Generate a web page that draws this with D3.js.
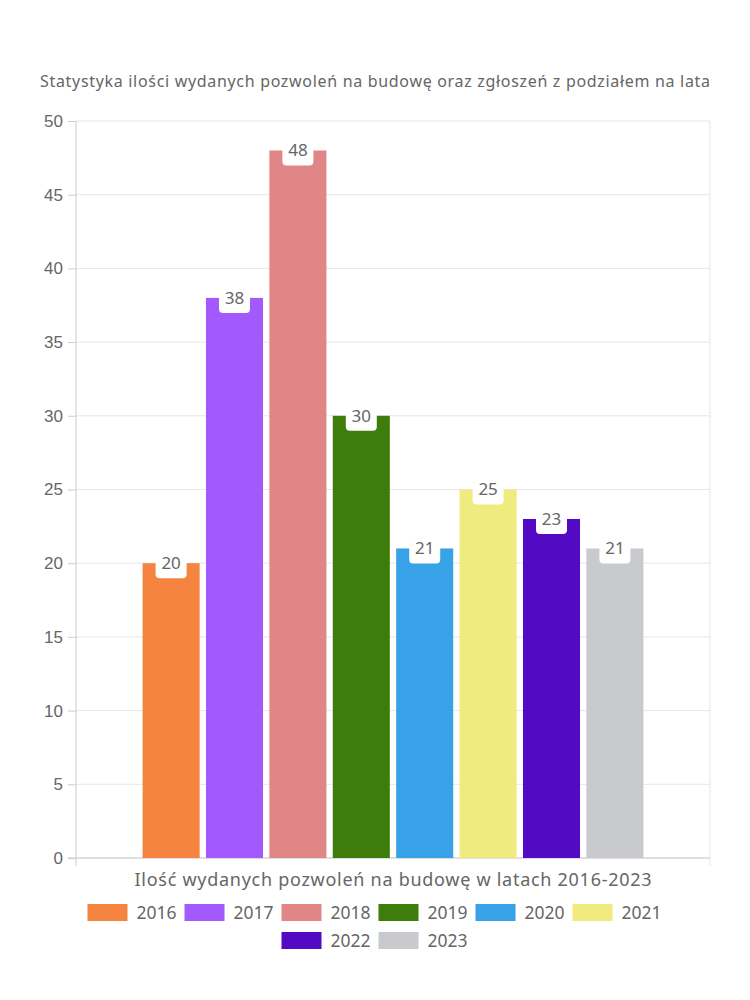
<!DOCTYPE html>
<html>
<head>
<meta charset="utf-8">
<script src="https://cdn.jsdelivr.net/npm/d3@7"></script>
<style>
  body { margin: 0; background: #fff; }
  .axis text { font-family: "Liberation Sans", Arial, sans-serif; font-size: 17px; fill: #666; }
  .axis path, .axis line { stroke: #ccc; }
  .lbl { font-family: "Noto Sans", sans-serif; fill: #666; }
</style>
</head>
<body>
<div id="chart"></div>
<script>
const years = ["2016", "2017", "2018", "2019", "2020", "2021", "2022", "2023"];
const values = [20, 38, 48, 30, 21, 25, 23, 21];
const colors = ["#f4843f", "#a259fd", "#e08686", "#3e7d0c", "#38a2e8", "#f0eb7e", "#520bc3", "#c9cacd"];
const yTicks = [0, 5, 10, 15, 20, 25, 30, 35, 40, 45, 50];
const title = "Statystyka ilości wydanych pozwoleń na budowę oraz zgłoszeń z podziałem na lata";
const xTitle = "Ilość wydanych pozwoleń na budowę w latach 2016-2023";

const W = 750, H = 1000;
const plot = { left: 76, right: 710, top: 121, bottom: 858 };

const svg = d3.select("#chart").append("svg")
  .attr("width", W).attr("height", H);

const y = d3.scaleLinear().domain([0, 50]).range([plot.bottom, plot.top]);

// one category, 8 datasets (chart.js style: 0.8 category, 0.9 bar)
const groupW = (plot.right - plot.left) * 0.8;
const cx = (plot.left + plot.right) / 2;
const xOuter = d3.scaleBand().domain(years).range([cx - groupW / 2, cx + groupW / 2]);
const barW = xOuter.bandwidth() * 0.9;

// grid
svg.append("g").selectAll("line").data(yTicks).join("line")
  .attr("x1", plot.left).attr("x2", plot.right)
  .attr("y1", d => y(d)).attr("y2", d => y(d))
  .attr("stroke", "#e6e6e6");
svg.append("line").attr("x1", plot.right).attr("x2", plot.right)
  .attr("y1", plot.top).attr("y2", plot.bottom + 8).attr("stroke", "#e6e6e6");

const yAxis = svg.append("g").attr("class", "axis")
  .attr("transform", `translate(${plot.left},0)`)
  .call(d3.axisLeft(y).tickValues(yTicks).tickSize(8).tickPadding(5));
yAxis.select(".domain").remove();
yAxis.append("line").attr("x1", 0).attr("x2", 0).attr("y1", plot.top).attr("y2", plot.bottom + 8).attr("stroke", "#ccc");
yAxis.selectAll(".tick line").attr("stroke", "#e0e0e0");

svg.append("line").attr("x1", plot.left - 8).attr("x2", plot.right)
  .attr("y1", plot.bottom).attr("y2", plot.bottom).attr("stroke", "#ccc");

// bars
svg.append("g").selectAll("rect").data(years).join("rect")
  .attr("x", d => xOuter(d) + (xOuter.bandwidth() - barW) / 2)
  .attr("y", (d, i) => y(values[i]))
  .attr("width", barW)
  .attr("height", (d, i) => y(0) - y(values[i]))
  .attr("fill", (d, i) => colors[i]);

// value labels
const labels = svg.append("g").selectAll("g").data(years).join("g")
  .attr("transform", (d, i) => `translate(${xOuter(d) + xOuter.bandwidth() / 2},${y(values[i])})`);
labels.append("rect")
  .attr("x", -15.5).attr("y", -13).attr("width", 31).attr("height", 28).attr("rx", 4)
  .attr("fill", "#fff");
labels.append("text").attr("class", "lbl")
  .attr("text-anchor", "middle").attr("dy", "0.35em")
  .style("font-size", "17px")
  .text((d, i) => values[i]);

// titles
svg.append("text").attr("class", "lbl")
  .attr("x", 375).attr("y", 87).attr("text-anchor", "middle")
  .attr("textLength", 670).attr("lengthAdjust", "spacing")
  .style("font-size", "16px").text(title);
svg.append("text").attr("class", "lbl")
  .attr("x", cx).attr("y", 886).attr("text-anchor", "middle")
  .attr("textLength", 517).attr("lengthAdjust", "spacing")
  .style("font-size", "18px").text(xTitle);

// legend
const rows = [years.slice(0, 6), years.slice(6)];
const boxW = 40, boxH = 17, itemW = 97;
rows.forEach((row, r) => {
  const total = row.length * itemW - 11;
  let x0 = 375 - total / 2 - 2;
  const yy = 904 + r * 28;
  row.forEach(d => {
    const i = years.indexOf(d);
    svg.append("rect").attr("x", x0).attr("y", yy).attr("width", boxW).attr("height", boxH)
      .attr("fill", colors[i]);
    svg.append("text").attr("class", "lbl")
      .attr("x", x0 + boxW + 9).attr("y", yy + boxH / 2).attr("dy", "0.35em")
      .style("font-size", "17.5px").text(d);
    x0 += itemW;
  });
});
</script>
</body>
</html>
